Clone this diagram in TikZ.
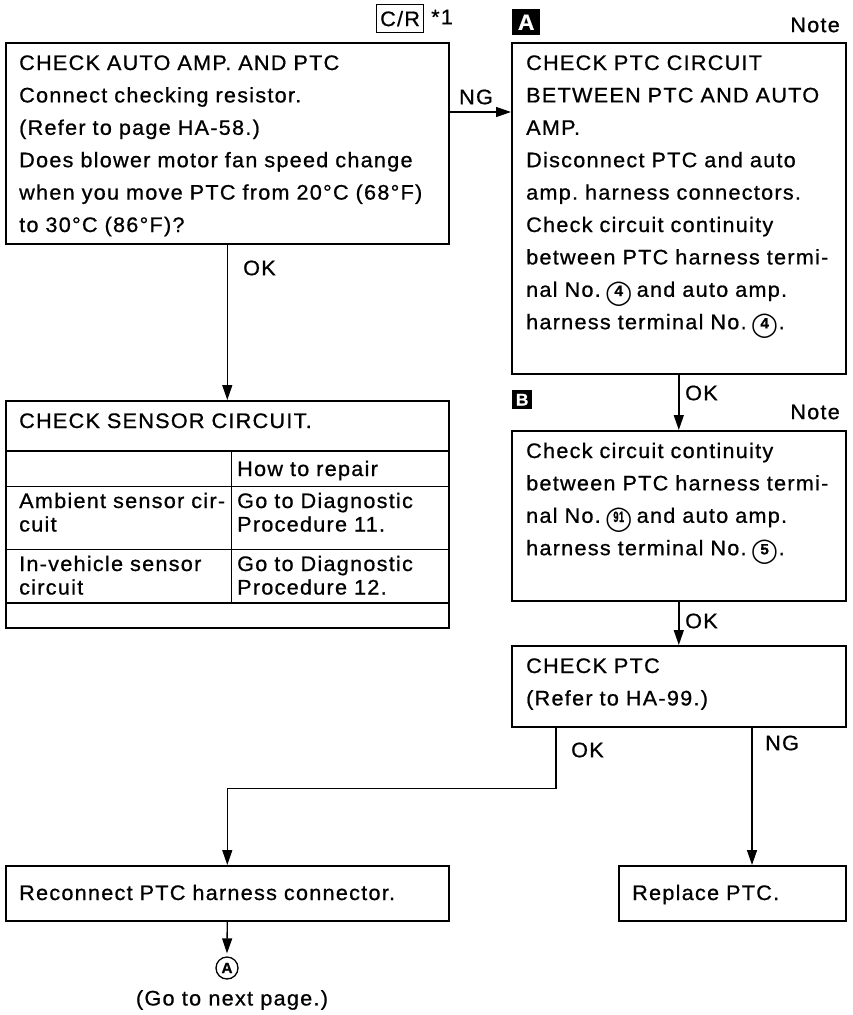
\documentclass[tikz,border=0pt]{standalone}
\usepackage{fontspec}
\setmainfont{Liberation Sans}[FakeStretch=1.03,LetterSpace=6,FakeBold=0.8]
\newfontfamily\symfont{DejaVu Sans}
\usetikzlibrary{arrows.meta}
\frenchspacing
\newcommand{\cnum}[1]{\makebox[22pt]{\ooalign{\raisebox{-3.5pt}{\symfont\fontsize{24}{24}\selectfont ◯}\crcr
  \hfil\raisebox{0.8pt}{\fontsize{15}{15}\selectfont\bfseries #1}\hfil}}}
\newcommand{\cnumtwo}[1]{\makebox[22pt]{\ooalign{\raisebox{-3.5pt}{\symfont\fontsize{24}{24}\selectfont ◯}\crcr
  \hfil\raisebox{0.8pt}{\scalebox{0.6}[1]{\fontsize{15}{15}\selectfont\bfseries #1}}\hfil}}}

\begin{document}
\begin{tikzpicture}[x=1pt, y=-1pt,
  stepbox/.style={draw, line width=1.6pt, anchor=north west, inner sep=0pt},
  steptext/.style={anchor=base west, align=left, inner sep=0pt, text width=#1,
    font=\fontsize{21}{32.4}\selectfont},
  tabletext/.style={anchor=base west, align=left, inner sep=0pt, text width=#1,
    font=\fontsize{21}{23.5}\selectfont},
  lbl/.style={inner sep=0pt, font=\fontsize{21}{24}\selectfont},
  tag/.style={fill=black, text=white, inner sep=0pt, anchor=north west,
    font=\bfseries\fontsize{22}{22}\selectfont},
  arr/.style={line width=1.4pt, -{Triangle[length=15pt,width=10pt]}}]
  \useasboundingbox (0,0) rectangle (852,1015);

  % header
  \node[draw, line width=1.2pt, anchor=north west, inner sep=0pt,
    minimum width=47, minimum height=28, font=\fontsize{21}{24}\selectfont] (crbox) at (376,4) {C/R};
  \node[lbl, anchor=west] (crnote) at (431,17) {*1};
  \node[tag, minimum width=28, minimum height=26] (tagA) at (512,9) {A};
  \node[lbl, anchor=east] (noteA) at (840,25) {Note};

  % first check
  \node[stepbox, minimum width=443, minimum height=201] (chkamp) at (5,42) {};
  \node[steptext=425pt] (chkamptxt) at (19,70)
    {CHECK AUTO AMP. AND PTC\\Connect checking resistor.\\(Refer to page HA-58.)\\Does blower motor fan speed change\\when you move PTC from 20°C (68°F)\\to 30°C (86°F)?};

  % circuit check A
  \node[stepbox, minimum width=334, minimum height=331] (chkcirc) at (511,42) {};
  \node[steptext=325pt] (chkcirctxt) at (526,70)
    {CHECK PTC CIRCUIT\\BETWEEN PTC AND AUTO\\AMP.\\Disconnect PTC and auto\\amp. harness connectors.\\Check circuit continuity\\between PTC harness termi-\\nal No.\ \cnum{4}\ and auto amp.\\harness terminal No.\ \cnum{4}\hspace{3pt}.};
  \draw[arr] ([yshift=-70pt]chkamp.north east) -- ([yshift=-70pt]chkcirc.north west);
  \node[lbl] (ngamp) at (476,97) {NG};

  % sensor circuit
  \node[stepbox, minimum width=443, minimum height=227] (sensor) at (5,400) {};
  \node[steptext=425pt] (sensortxt) at (19,428) {CHECK SENSOR CIRCUIT.};
  \draw[line width=2.6pt] (5,451) -- (448,451);
  \draw[line width=1pt] (5,486) -- (448,486);
  \draw[line width=1pt] (5,549) -- (448,549);
  \draw[line width=2.6pt] (5,603) -- (448,603);
  \draw[line width=1pt] (231,451) -- (231,603);
  \node[tabletext=205pt] (repairhd) at (237,476) {How to repair};
  \node[tabletext=210pt] (ambname) at (19,508) {Ambient sensor cir-\\cuit};
  \node[tabletext=205pt] (ambfix) at (237,508) {Go to Diagnostic\\Procedure 11.};
  \node[tabletext=210pt] (invname) at (19,571) {In-vehicle sensor\\circuit};
  \node[tabletext=205pt] (invfix) at (237,571) {Go to Diagnostic\\Procedure 12.};
  \draw[arr] (chkamp.south) -- (sensor.north);
  \node[lbl, anchor=west] (okamp) at (243,268) {OK};

  % circuit check B
  \node[tag, minimum width=20, minimum height=19] (tagB) at (512,390) {\fontsize{17}{17}\selectfont B};
  \node[lbl, anchor=east] (noteB) at (840,412) {Note};
  \node[stepbox, minimum width=334, minimum height=170] (chkcont) at (511,430) {};
  \node[steptext=325pt] (chkconttxt) at (526,458)
    {Check circuit continuity\\between PTC harness termi-\\nal No.\ \cnumtwo{91}\ and auto amp.\\harness terminal No.\ \cnum{5}\hspace{3pt}.};
  \draw[arr] (chkcirc.south) -- (chkcont.north);
  \node[lbl, anchor=west] (okcirc) at (685,393) {OK};

  % PTC check
  \node[stepbox, minimum width=334, minimum height=81] (chkptc) at (511,645) {};
  \node[steptext=320pt] (chkptctxt) at (526,673) {CHECK PTC\\(Refer to HA-99.)};
  \draw[arr] (chkcont.south) -- (chkptc.north);
  \node[lbl, anchor=west] (okcont) at (685,621) {OK};

  % results
  \node[stepbox, minimum width=443, minimum height=55] (reconn) at (5,865) {};
  \node[steptext=425pt] (reconntxt) at (19,900) {Reconnect PTC harness connector.};
  \node[stepbox, minimum width=227, minimum height=55] (replace) at (618,865) {};
  \node[steptext=210pt] (replacetxt) at (632,900) {Replace PTC.};
  \coordinate (okdrop) at ([xshift=45pt]chkptc.south west);
  \coordinate (ngdrop) at ([xshift=241pt]chkptc.south west);
  \draw[arr] (okdrop) -- ++(0,61) -| (reconn.north);
  \draw[arr] (ngdrop) -- (ngdrop |- replace.north);
  \node[lbl, anchor=west] (okptc) at (571,750) {OK};
  \node[lbl, anchor=west] (ngptc) at (765,743) {NG};

  % next page
  \node[circle, draw, line width=1.3pt, inner sep=0pt, minimum size=22pt,
    font=\bfseries\fontsize{15}{15}\selectfont] (nextA) at (227,968) {A};
  \draw[arr] (reconn.south) -- ([yshift=3pt]nextA.north);
  \node[lbl] (gonext) at (232,1000) {(Go to next page.)};
\end{tikzpicture}
\end{document}
